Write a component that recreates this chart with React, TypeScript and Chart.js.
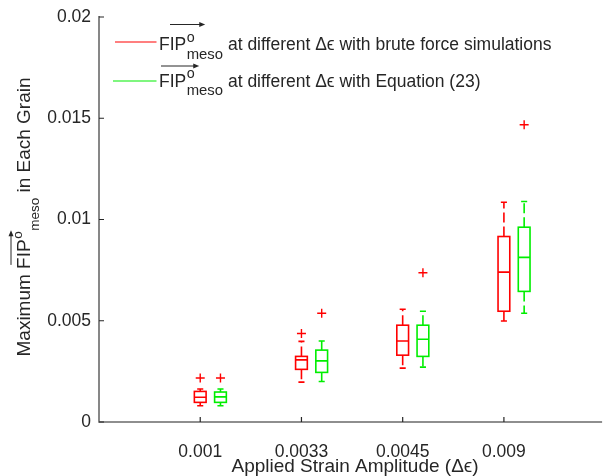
import { useEffect, useRef } from 'react';
import { Chart, registerables } from 'chart.js';
Chart.register(...registerables);

const categories = ['0.001', '0.0033', '0.0045', '0.009'];

const bruteLower = [0.0008, 0.00197, 0.00266, 0.00499];
const bruteQ1 = [0.00097, 0.0026, 0.0033, 0.00547];
const bruteMedian = [0.00122, 0.00307, 0.004, 0.0074];
const bruteQ3 = [0.00151, 0.00324, 0.00478, 0.00916];
const bruteUpper = [0.00163, 0.00398, 0.00557, 0.01085];
const bruteOutliers = [[0.00217], [0.00437], [], []];

const eqLower = [0.0008, 0.002, 0.00271, 0.00537];
const eqQ1 = [0.00097, 0.00245, 0.00324, 0.00645];
const eqMedian = [0.00124, 0.00302, 0.00409, 0.00813];
const eqQ3 = [0.00148, 0.00355, 0.00478, 0.00962];
const eqUpper = [0.00163, 0.004, 0.00547, 0.01089];
const eqOutliers = [[0.00217], [0.00537], [0.00737], [0.01468]];

const yTickValues = [0, 0.005, 0.01, 0.015, 0.02];
const yTickLabels = ['0', '0.005', '0.01', '0.015', '0.02'];

const legendTexts = [
  ' at different \u0394\u03f5 with brute force simulations',
  ' at different \u0394\u03f5 with Equation (23)',
];
const xTitle = 'Applied Strain Amplitude (\u0394\u03f5)';

const RED = '#ff0000';
const GREEN = '#00ee00';
const TEXT = '#262626';
const AXIS = '#6a6a6a';
const FONT = "'Liberation Sans', Arial, Helvetica, sans-serif";
const TICK_SIZE = 17.5;
const LABEL_SIZE = 19;
const LEGEND_SIZE = 17.5;

const series = [
  { lower: bruteLower, q1: bruteQ1, median: bruteMedian, q3: bruteQ3, upper: bruteUpper, outliers: bruteOutliers, color: RED, offset: 0 },
  { lower: eqLower, q1: eqQ1, median: eqMedian, q3: eqQ3, upper: eqUpper, outliers: eqOutliers, color: GREEN, offset: 0.2 },
];

const f = (size: number) => `${size}px ${FONT}`;

type Arrow = { raise: number; start: number; end: number };

function drawArrow(ctx: CanvasRenderingContext2D, x1: number, x2: number, y: number) {
  ctx.save();
  ctx.strokeStyle = TEXT;
  ctx.fillStyle = TEXT;
  ctx.lineWidth = 1;
  ctx.beginPath();
  ctx.moveTo(x1, y);
  ctx.lineTo(x2 - 3, y);
  ctx.stroke();
  ctx.beginPath();
  ctx.moveTo(x2, y);
  ctx.lineTo(x2 - 6, y - 2.5);
  ctx.lineTo(x2 - 6, y + 2.5);
  ctx.closePath();
  ctx.fill();
  ctx.restore();
}

// stacked super/subscript (legend style)
function drawFipStacked(ctx: CanvasRenderingContext2D, x0: number, base: number, size: number, arrow: Arrow) {
  ctx.save();
  ctx.fillStyle = TEXT;
  ctx.textAlign = 'left';
  ctx.font = f(size);
  const fipW = ctx.measureText('FIP').width;
  ctx.fillText('FIP', x0, base);
  ctx.font = f(size * 0.82);
  const oW = ctx.measureText('o').width;
  ctx.fillText('o', x0 + fipW + 0.5, base - size * 0.47);
  ctx.font = f(size * 0.85);
  const mW = ctx.measureText('meso').width;
  ctx.fillText('meso', x0 + fipW + 0.5, base + size * 0.49);
  ctx.restore();
  drawArrow(ctx, x0 + arrow.start, x0 + fipW + arrow.end, base - arrow.raise);
  return fipW + Math.max(oW, mW) + 0.5;
}

// sequential super/subscript (axis label style)
function fipSeqWidth(ctx: CanvasRenderingContext2D, size: number) {
  ctx.font = f(size);
  const fipW = ctx.measureText('FIP').width;
  ctx.font = f(size * 0.71);
  const oW = ctx.measureText('o').width;
  const mW = ctx.measureText('meso').width;
  return { fipW, oW, mW, total: fipW + oW + mW + 1 };
}

function drawFipSeq(ctx: CanvasRenderingContext2D, x0: number, base: number, size: number, arrow: Arrow) {
  const m = fipSeqWidth(ctx, size);
  ctx.save();
  ctx.fillStyle = TEXT;
  ctx.textAlign = 'left';
  ctx.font = f(size);
  ctx.fillText('FIP', x0, base);
  ctx.font = f(size * 0.71);
  ctx.fillText('o', x0 + m.fipW + 0.5, base - size * 0.42);
  ctx.fillText('meso', x0 + m.fipW + m.oW + 1, base + size * 0.47);
  ctx.restore();
  drawArrow(ctx, x0 + arrow.start, x0 + m.fipW + arrow.end, base - arrow.raise);
  return m.total;
}

const drawPlugin = {
  id: 'boxDraw',
  beforeDatasetsDraw(chart: any) {
    const { ctx, scales } = chart;
    const x = scales.x;
    const y = scales.y;
    const hw = x.getPixelForValue(0.058) - x.getPixelForValue(0);
    const cw = x.getPixelForValue(0.03) - x.getPixelForValue(0);
    ctx.save();
    series.forEach((s) => {
      categories.forEach((_, i) => {
        const cx = x.getPixelForValue(i + 1 + s.offset);
        const pLo = y.getPixelForValue(s.lower[i]);
        const pQ1 = y.getPixelForValue(s.q1[i]);
        const pMed = y.getPixelForValue(s.median[i]);
        const pQ3 = y.getPixelForValue(s.q3[i]);
        const pUp = y.getPixelForValue(s.upper[i]);
        ctx.strokeStyle = s.color;
        ctx.lineWidth = 1.6;
        ctx.setLineDash([]);
        ctx.strokeRect(cx - hw, pQ3, hw * 2, pQ1 - pQ3);
        ctx.beginPath();
        ctx.moveTo(cx - hw, pMed);
        ctx.lineTo(cx + hw, pMed);
        ctx.moveTo(cx - cw, pLo);
        ctx.lineTo(cx + cw, pLo);
        ctx.moveTo(cx - cw, pUp);
        ctx.lineTo(cx + cw, pUp);
        ctx.stroke();
        ctx.setLineDash([10, 4]);
        ctx.beginPath();
        ctx.moveTo(cx, pQ3);
        ctx.lineTo(cx, pUp);
        ctx.moveTo(cx, pQ1);
        ctx.lineTo(cx, pLo);
        ctx.stroke();
        ctx.setLineDash([]);
      });
    });
    ctx.restore();
  },
  afterDraw(chart: any) {
    const { ctx, scales, chartArea } = chart;
    const x = scales.x;
    const y = scales.y;
    ctx.save();
    // axes
    ctx.strokeStyle = AXIS;
    ctx.lineWidth = 1.6;
    ctx.beginPath();
    ctx.moveTo(chartArea.left, chartArea.top - 1);
    ctx.lineTo(chartArea.left, chartArea.bottom);
    ctx.lineTo(chartArea.right, chartArea.bottom);
    ctx.stroke();
    ctx.lineWidth = 1.2;
    ctx.strokeStyle = TEXT;
    ctx.beginPath();
    yTickValues.forEach((v) => {
      const py = y.getPixelForValue(v);
      ctx.moveTo(chartArea.left, py);
      ctx.lineTo(chartArea.left + 5, py);
    });
    categories.forEach((_, i) => {
      const px = x.getPixelForValue(i + 1);
      ctx.moveTo(px, chartArea.bottom);
      ctx.lineTo(px, chartArea.bottom - 5);
    });
    ctx.stroke();
    // tick labels
    ctx.fillStyle = TEXT;
    ctx.font = f(TICK_SIZE);
    ctx.textAlign = 'right';
    ctx.textBaseline = 'middle';
    yTickValues.forEach((v, i) => {
      ctx.fillText(yTickLabels[i], chartArea.left - 8, y.getPixelForValue(v));
    });
    ctx.textAlign = 'center';
    ctx.textBaseline = 'alphabetic';
    categories.forEach((c, i) => {
      ctx.fillText(c, x.getPixelForValue(i + 1), chartArea.bottom + 35);
    });
    // x title
    ctx.font = f(LABEL_SIZE);
    ctx.fillText(xTitle, 355, 472);
    // y title (rotated)
    ctx.textAlign = 'left';
    ctx.font = f(LABEL_SIZE);
    const w1 = ctx.measureText('Maximum ').width;
    const w3 = ctx.measureText(' in Each Grain').width;
    const fm = fipSeqWidth(ctx, LABEL_SIZE);
    const total = w1 + fm.total + w3;
    ctx.save();
    ctx.translate(30, 217 + total / 2);
    ctx.rotate(-Math.PI / 2);
    ctx.font = f(LABEL_SIZE);
    ctx.fillStyle = TEXT;
    ctx.fillText('Maximum ', 0, 0);
    drawFipSeq(ctx, w1, 0, LABEL_SIZE, { raise: 19, start: 4, end: 9 });
    ctx.font = f(LABEL_SIZE);
    ctx.fillStyle = TEXT;
    ctx.fillText(' in Each Grain', w1 + fm.total, 0);
    ctx.restore();
    ctx.restore();

    // legend
    const rows = [
      { base: 50, lineY: 42, x1: 115, color: RED, text: legendTexts[0], arrow: { raise: 25.5, start: 11, end: 19 } },
      { base: 86.5, lineY: 81, x1: 113, color: GREEN, text: legendTexts[1], arrow: { raise: 20.5, start: 2, end: 13 } },
    ];
    rows.forEach((r) => {
      const tw = drawFipStacked(ctx, 159, r.base, LEGEND_SIZE, r.arrow);
      ctx.save();
      ctx.font = f(LEGEND_SIZE);
      ctx.fillStyle = TEXT;
      ctx.textAlign = 'left';
      ctx.textBaseline = 'alphabetic';
      ctx.fillText(r.text, 159 + tw, r.base);
      ctx.restore();
    });
    rows.forEach((r) => {
      ctx.save();
      ctx.setLineDash([]);
      ctx.strokeStyle = r.color;
      ctx.lineWidth = 1.2;
      ctx.beginPath();
      ctx.moveTo(r.x1, r.lineY);
      ctx.lineTo(156.5, r.lineY);
      ctx.stroke();
      ctx.restore();
    });
  },
};

export default function App() {
  const ref = useRef<HTMLCanvasElement | null>(null);
  useEffect(() => {
    document.body.style.margin = '0';
    const outlierPoints: { x: number; y: number }[] = [];
    series.forEach((s) => {
      s.outliers.forEach((list, i) => {
        list.forEach((v) => outlierPoints.push({ x: i + 1 + s.offset, y: v }));
      });
    });
    const chart = new Chart(ref.current as HTMLCanvasElement, {
      type: 'scatter',
      data: {
        datasets: [
          {
            label: 'Outliers',
            data: outlierPoints,
            pointStyle: 'cross',
            pointRadius: 4.5,
            pointBorderWidth: 1.4,
            borderColor: RED,
            backgroundColor: RED,
          } as any,
        ],
      },
      options: {
        responsive: false,
        animation: false,
        devicePixelRatio: 1,
        layout: { padding: { left: 99, top: 17, right: 0, bottom: 54 } },
        scales: {
          x: { type: 'linear', min: 0, max: 4.97, display: false },
          y: { type: 'linear', min: 0, max: 0.02, display: false },
        },
        plugins: { legend: { display: false }, tooltip: { enabled: false } },
      },
      plugins: [drawPlugin],
    });
    return () => chart.destroy();
  }, []);
  return (
    <div style={{ position: 'absolute', left: 0, top: 0, width: 608, height: 476, background: '#fff' }}>
      <canvas ref={ref} width={608} height={476} />
    </div>
  );
}
